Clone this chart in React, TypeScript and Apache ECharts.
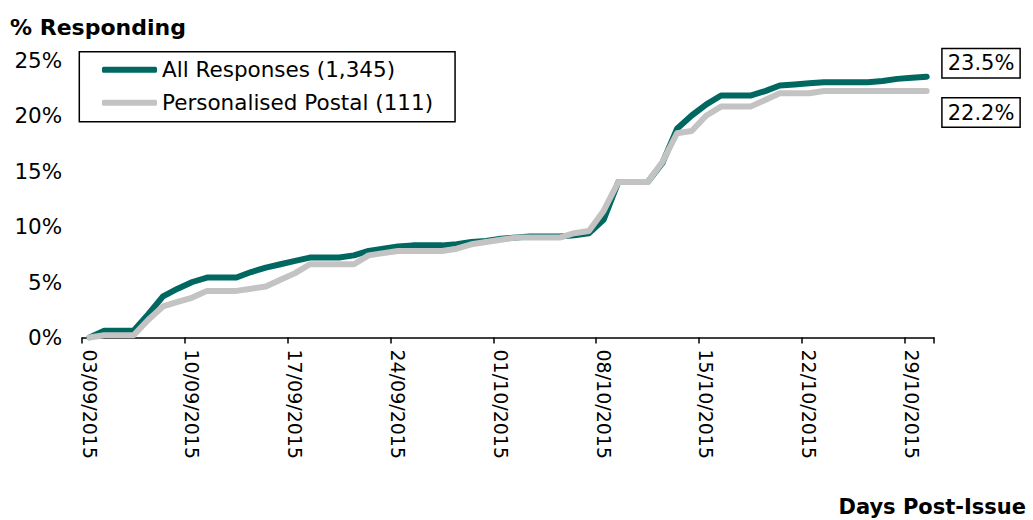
import React, { useEffect, useRef } from "react";
import * as echarts from "echarts";

// Daily categories, 3 Sep – 30 Oct 2015
const days: string[] = [
  "03/09/2015", "04/09/2015", "05/09/2015", "06/09/2015", "07/09/2015", "08/09/2015", "09/09/2015",
  "10/09/2015", "11/09/2015", "12/09/2015", "13/09/2015", "14/09/2015", "15/09/2015", "16/09/2015",
  "17/09/2015", "18/09/2015", "19/09/2015", "20/09/2015", "21/09/2015", "22/09/2015", "23/09/2015",
  "24/09/2015", "25/09/2015", "26/09/2015", "27/09/2015", "28/09/2015", "29/09/2015", "30/09/2015",
  "01/10/2015", "02/10/2015", "03/10/2015", "04/10/2015", "05/10/2015", "06/10/2015", "07/10/2015",
  "08/10/2015", "09/10/2015", "10/10/2015", "11/10/2015", "12/10/2015", "13/10/2015", "14/10/2015",
  "15/10/2015", "16/10/2015", "17/10/2015", "18/10/2015", "19/10/2015", "20/10/2015", "21/10/2015",
  "22/10/2015", "23/10/2015", "24/10/2015", "25/10/2015", "26/10/2015", "27/10/2015", "28/10/2015",
  "29/10/2015", "30/10/2015",
];

// Cumulative % responding
const allResponses: number[] = [
  0, 0.6, 0.6, 0.6, 2.1, 3.7, 4.4,
  5.0, 5.4, 5.4, 5.4, 5.9, 6.3, 6.6,
  6.9, 7.2, 7.2, 7.2, 7.4, 7.8, 8.0,
  8.2, 8.3, 8.3, 8.3, 8.4, 8.6, 8.7,
  8.9, 9.0, 9.1, 9.1, 9.1, 9.2, 9.4,
  10.6, 14.0, 14.0, 14.0, 15.7, 18.8, 20.0,
  21.0, 21.8, 21.8, 21.8, 22.2, 22.7, 22.8,
  22.9, 23.0, 23.0, 23.0, 23.0, 23.1, 23.3,
  23.4, 23.5,
];

const personalisedPostal: number[] = [
  0, 0.2, 0.2, 0.2, 1.6, 2.8, 3.2,
  3.6, 4.2, 4.2, 4.2, 4.4, 4.6, 5.2,
  5.8, 6.6, 6.6, 6.6, 6.6, 7.4, 7.6,
  7.8, 7.8, 7.8, 7.8, 8.0, 8.4, 8.6,
  8.8, 9.0, 9.0, 9.0, 9.0, 9.4, 9.6,
  11.4, 14.0, 14.0, 14.0, 15.8, 18.4, 18.6,
  20.0, 20.8, 20.8, 20.8, 21.4, 22.0, 22.0,
  22.0, 22.2, 22.2, 22.2, 22.2, 22.2, 22.2,
  22.2, 22.2,
];

const seriesNames: string[] = ["All Responses (1,345)", "Personalised Postal (111)"];
const yTicks = { min: 0, max: 25, step: 5 };

const FONT = "'DejaVu Sans', Verdana, sans-serif";
const TEAL = "#006861";
const GREY = "#c3c3c3";

export default function App() {
  const ref = useRef<HTMLDivElement>(null);

  useEffect(() => {
    if (!ref.current) return;
    const chart = echarts.init(ref.current, null, { renderer: "svg" });

    const endLabel = (offsetY: number) => ({
      show: true,
      formatter: (p: any) => `${Number(p.value).toFixed(1)}%`,
      fontFamily: FONT,
      fontSize: 21,
      color: "#000",
      backgroundColor: "#fff",
      borderColor: "#000",
      borderWidth: 1.5,
      padding: [4, 5, 3, 5],
      distance: 5,
      offset: [11, offsetY],
    });

    chart.setOption({
      animation: false,
      grid: { left: 82.2, right: 99, top: 60, bottom: 182.5, containLabel: false },
      legend: {
        orient: "vertical",
        left: 79.3,
        top: 51.7,
        padding: [6, 22, 7, 22.7],
        itemGap: 9,
        itemWidth: 55,
        itemHeight: 6,
        icon: "roundRect",
        borderColor: "#000",
        borderWidth: 1.5,
        backgroundColor: "#fff",
        textStyle: { fontFamily: FONT, fontSize: 21.5, color: "#000", lineHeight: 24 },
        data: seriesNames,
      },
      xAxis: {
        type: "category",
        data: days,
        boundaryGap: true,
        axisLine: { show: true, lineStyle: { color: "#000", width: 1.5 } },
        axisTick: { show: true, interval: 6, length: 6, lineStyle: { color: "#000", width: 1.5 } },
        axisLabel: {
          interval: 6,
          rotate: -90,
          margin: 12,
          fontFamily: FONT,
          fontSize: 19,
          color: "#000",
        },
        splitLine: { show: false },
      },
      yAxis: {
        type: "value",
        min: yTicks.min,
        max: yTicks.max,
        interval: yTicks.step,
        axisLine: { show: false },
        axisTick: { show: false },
        splitLine: { show: false },
        axisLabel: {
          formatter: "{value}%",
          margin: 20,
          fontFamily: FONT,
          fontSize: 21.5,
          color: "#000",
        },
      },
      graphic: [
        {
          type: "text",
          left: 10,
          top: 16,
          style: { text: "% Responding", fontFamily: FONT, fontSize: 22, fontWeight: "bold", fill: "#000" },
        },
        {
          type: "text",
          right: 7,
          top: 496,
          style: { text: "Days Post-Issue", fontFamily: FONT, fontSize: 21, fontWeight: "bold", fill: "#000" },
        },
      ],
      series: [
        {
          name: seriesNames[0],
          type: "line",
          data: allResponses,
          symbol: "none",
          smooth: false,
          itemStyle: { color: TEAL },
          lineStyle: { color: TEAL, width: 6, cap: "round", join: "round" },
          endLabel: endLabel(-13.4),
        },
        {
          name: seriesNames[1],
          type: "line",
          data: personalisedPostal,
          symbol: "none",
          smooth: false,
          itemStyle: { color: GREY },
          lineStyle: { color: GREY, width: 6, cap: "round", join: "round" },
          endLabel: endLabel(21.5),
        },
      ],
    });

    return () => chart.dispose();
  }, []);

  return (
    <div
      ref={ref}
      style={{ position: "absolute", left: 0, top: 0, width: 1033, height: 520, background: "#fff" }}
    />
  );
}
